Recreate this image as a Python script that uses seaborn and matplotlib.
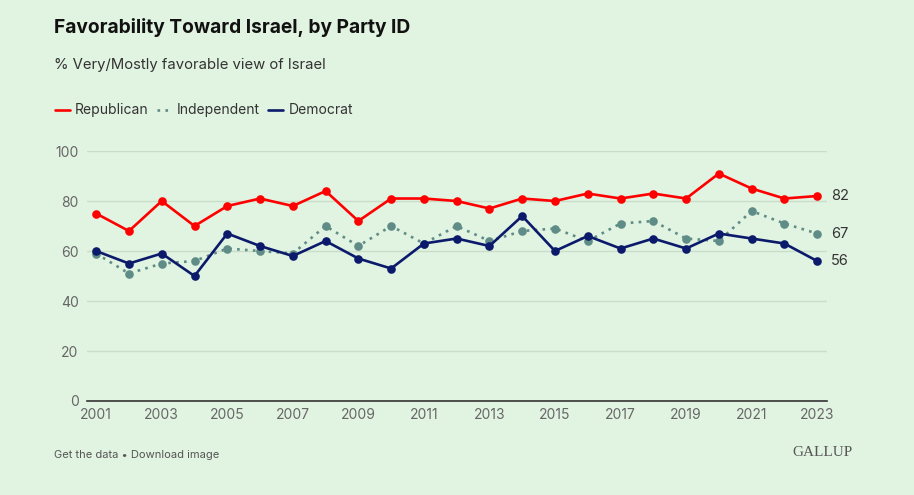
import pandas as pd
import numpy as np
import matplotlib
matplotlib.use('Agg')
import matplotlib.pyplot as plt
import seaborn as sns
from matplotlib.lines import Line2D

# Data
years = list(range(2001, 2024))
republican = [75, 68, 80, 70, 78, 81, 78, 84, 72, 81, 81, 80, 77, 81, 80, 83, 81, 83, 81, 91, 85, 81, 82]
independent = [59, 51, 55, 56, 61, 60, 59, 70, 62, 70, 63, 70, 64, 68, 69, 64, 71, 72, 65, 64, 76, 71, 67]
democrat = [60, 55, 59, 50, 67, 62, 58, 64, 57, 53, 63, 65, 62, 74, 60, 66, 61, 65, 61, 67, 65, 63, 56]
parties = ['Republican', 'Independent', 'Democrat']
year_ticks = list(range(2001, 2024, 2))
y_ticks = [0, 20, 40, 60, 80, 100]

df = pd.DataFrame({
    'Year': years * 3,
    'Value': republican + independent + democrat,
    'Party': [p for p in parties for _ in years],
})

bg = '#E1F3E1'
palette = {'Republican': '#FF0000', 'Independent': '#5F8C86', 'Democrat': '#0B1A6A'}
dashes = {'Republican': '', 'Independent': (1, 2), 'Democrat': ''}

sns.set_theme(style='white')
plt.rcParams['font.family'] = ['Inter', 'DejaVu Sans']

fig = plt.figure(figsize=(9.14, 4.95), dpi=100, facecolor=bg)
ax = fig.add_axes([0.0952, 0.1899, 0.8096, 0.505])
ax.set_facecolor(bg)

sns.lineplot(data=df, x='Year', y='Value', hue='Party', style='Party',
             palette=palette, dashes=dashes, markers={p: 'o' for p in parties},
             markersize=6.2, markeredgewidth=0, linewidth=1.9, ax=ax,
             legend=False, clip_on=False, zorder=3)

ax.set_xlim(2000.72, 2023.3)
ax.set_ylim(0, 100)
ax.set_xticks(year_ticks)
ax.set_yticks(y_ticks)
ax.set_xlabel('')
ax.set_ylabel('')
ax.grid(axis='y', color='#C9DDC9', linewidth=1)
ax.grid(axis='x', visible=False)
for s in ['top', 'right', 'left']:
    ax.spines[s].set_visible(False)
ax.spines['bottom'].set_color('#333333')
ax.spines['bottom'].set_linewidth(1.2)
ax.tick_params(axis='both', length=0, labelsize=10, labelcolor='#666666')
ax.tick_params(axis='y', pad=6)
ax.tick_params(axis='x', pad=5)

# end labels
for vals in [republican, independent, democrat]:
    ax.annotate(str(vals[-1]), xy=(years[-1], vals[-1]), xytext=(10, 0),
                textcoords='offset points', va='center', ha='left',
                fontsize=10.5, color='#333333', annotation_clip=False)

# titles
fig.text(0.059, 0.945, 'Favorability Toward Israel, by Party ID', fontsize=13.8,
         fontweight='bold', color='#111111', va='center')
fig.text(0.059, 0.868, '% Very/Mostly favorable view of Israel', fontsize=10.7,
         color='#333333', va='center')

handles = [Line2D([0], [0], color=palette[p], linewidth=1.9) for p in parties]
handles[1].set_linestyle((0, (1, 2)))
fig.legend(handles, parties, loc='center left', bbox_to_anchor=(0.046, 0.777), ncol=3,
           frameon=False, fontsize=10, handlelength=1.1, handletextpad=0.35,
           columnspacing=0.6, labelcolor='#333333')

fig.text(0.059, 0.081, 'Get the data \u2022 Download image', fontsize=8,
         color='#555555', va='center')
fig.text(0.933, 0.085, 'GALLUP', fontsize=11, family=['Liberation Serif', 'DejaVu Serif'],
         color='#555555', va='center', ha='right')

fig.savefig('out.png', dpi=100, facecolor=bg)
